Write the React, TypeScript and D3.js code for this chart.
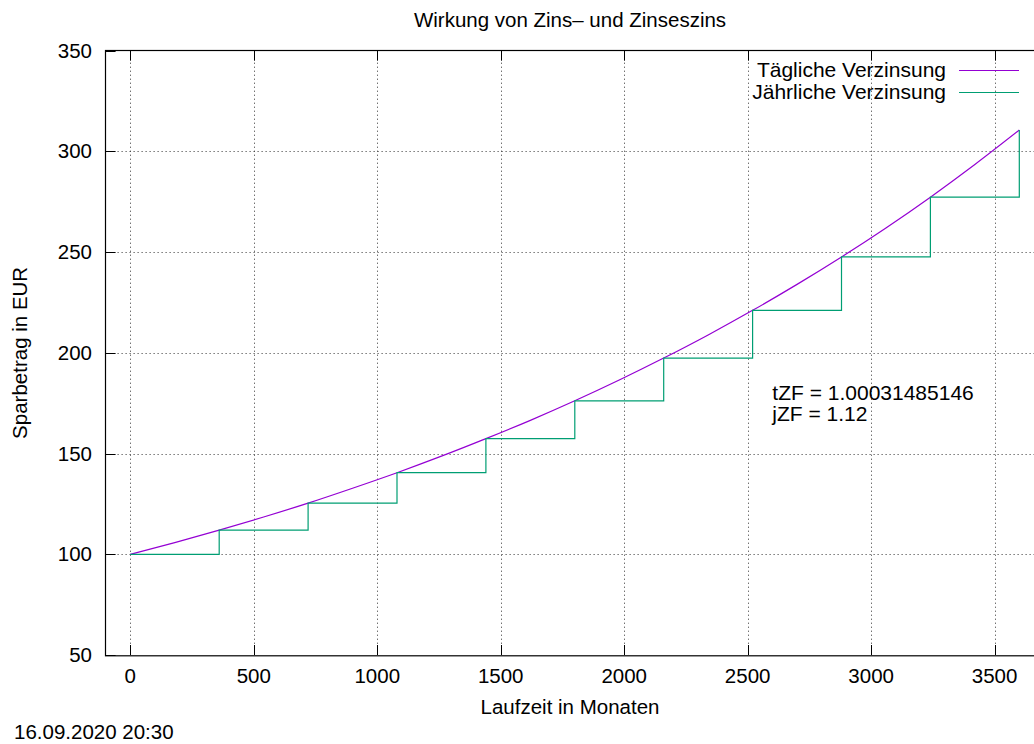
import React from 'react';
import * as d3 from 'd3';

// --- data ---
const dailyDays = [0, 180, 360, 540, 720, 900, 1080, 1260, 1440, 1620, 1800, 1980, 2160, 2340, 2520, 2700, 2880, 3060, 3240, 3420, 3600];
const dailyValues = [100.0, 105.8, 112.0, 118.5, 125.4, 132.8, 140.5, 148.7, 157.4, 166.5, 176.2, 186.5, 197.4, 208.9, 221.1, 234.0, 247.6, 262.0, 277.3, 293.5, 310.6];
const yearDays = [0, 360, 720, 1080, 1440, 1800, 2160, 2520, 2880, 3240, 3600];
const yearValues = [100.0, 112.0, 125.4, 140.5, 157.4, 176.2, 197.4, 221.1, 247.6, 277.3, 310.6];
const xTicks = [0, 500, 1000, 1500, 2000, 2500, 3000, 3500];
const yTicks = [50, 100, 150, 200, 250, 300, 350];
const seriesNames = ['Tägliche Verzinsung', 'Jährliche Verzinsung'];
const seriesColors = ['#9400d3', '#009e73'];
const noteLines = ['tZF = 1.00031485146', 'jZF = 1.12'];

const W = 1034;
const H = 744;
const left = 105.6;
const right = 1044;
const top = 50.7;
const bottom = 655;
const font = '"Liberation Sans", Arial, Helvetica, sans-serif';

const App = () => {
  const x = d3.scaleLinear().domain([-100, 3700]).range([left, right]);
  const y = d3.scaleLinear().domain([50, 350]).range([bottom, top]);

  const dailyPath = d3.line<[number, number]>().x(d => x(d[0])).y(d => y(d[1])).curve(d3.curveMonotoneX)(dailyDays.map((d, i) => [d, dailyValues[i]]));
  const yearPath = d3.line<[number, number]>().x(d => x(d[0])).y(d => y(d[1])).curve(d3.curveStepAfter)(yearDays.map((d, i) => [d, yearValues[i]]));

  const r = (v: number) => Math.round(v) + 0.5;
  const tick = 10;

  return (
    <svg width={W} height={H} style={{ position: 'absolute', left: 0, top: 0, display: 'block', background: '#fff' }} fontFamily={font} fontSize={20.5}>
      <rect width={W} height={H} fill="#fff" />
      {/* grid */}
      <g stroke="#000" strokeWidth={1} strokeDasharray="1,3" opacity={0.8}>
        {xTicks.map(t => <line key={'gx' + t} x1={r(x(t))} x2={r(x(t))} y1={top} y2={bottom} />)}
        {yTicks.slice(1, -1).map(t => <line key={'gy' + t} x1={left} x2={right} y1={r(y(t))} y2={r(y(t))} />)}
      </g>
      {/* ticks (inward, mirrored) */}
      <g stroke="#000" strokeWidth={1}>
        {xTicks.map(t => (
          <g key={'tx' + t}>
            <line x1={r(x(t))} x2={r(x(t))} y1={bottom} y2={bottom - tick} />
            <line x1={r(x(t))} x2={r(x(t))} y1={top} y2={top + tick} />
          </g>
        ))}
        {yTicks.map(t => (
          <g key={'ty' + t}>
            <line x1={left} x2={left + tick} y1={r(y(t))} y2={r(y(t))} />
            <line x1={right} x2={right - tick} y1={r(y(t))} y2={r(y(t))} />
          </g>
        ))}
      </g>
      {/* tick labels */}
      <g fill="#000">
        {xTicks.map(t => (
          <text key={'lx' + t} x={x(t)} y={683} textAnchor="middle">{t}</text>
        ))}
        {yTicks.map(t => (
          <text key={'ly' + t} x={92} y={y(t) + 7} textAnchor="end">{t}</text>
        ))}
      </g>
      {/* series */}
      <path d={dailyPath || ''} fill="none" stroke={seriesColors[0]} strokeWidth={1.2} />
      <path d={yearPath || ''} fill="none" stroke={seriesColors[1]} strokeWidth={1.2} />
      {/* frame */}
      <rect x={r(left) - 1} y={r(top) - 1} width={right - left} height={bottom - top + 1} fill="none" stroke="#000" strokeWidth={1.2} />
      {/* legend */}
      {seriesNames.map((name, i) => (
        <g key={name}>
          <text x={946} y={77 + i * 22} textAnchor="end" fill="#000" fontSize={21}>{name}</text>
          <line x1={959} x2={1019} y1={70.5 + i * 22} y2={70.5 + i * 22} stroke={seriesColors[i]} strokeWidth={1.2} />
        </g>
      ))}
      {/* annotation */}
      {noteLines.map((s, i) => (
        <text key={s} x={x(2600)} y={y(180) + 7 + i * 21} fill="#000" fontSize={21}>{s}</text>
      ))}
      {/* titles */}
      <text x={570} y={27} textAnchor="middle" fill="#000">Wirkung von Zins– und Zinseszins</text>
      <text x={570} y={714} textAnchor="middle" fill="#000">Laufzeit in Monaten</text>
      <text transform={`translate(27,${(top + bottom) / 2}) rotate(-90)`} textAnchor="middle" fill="#000">Sparbetrag in EUR</text>
      <text x={14} y={739} fill="#000">16.09.2020 20:30</text>
    </svg>
  );
};

export default App;
